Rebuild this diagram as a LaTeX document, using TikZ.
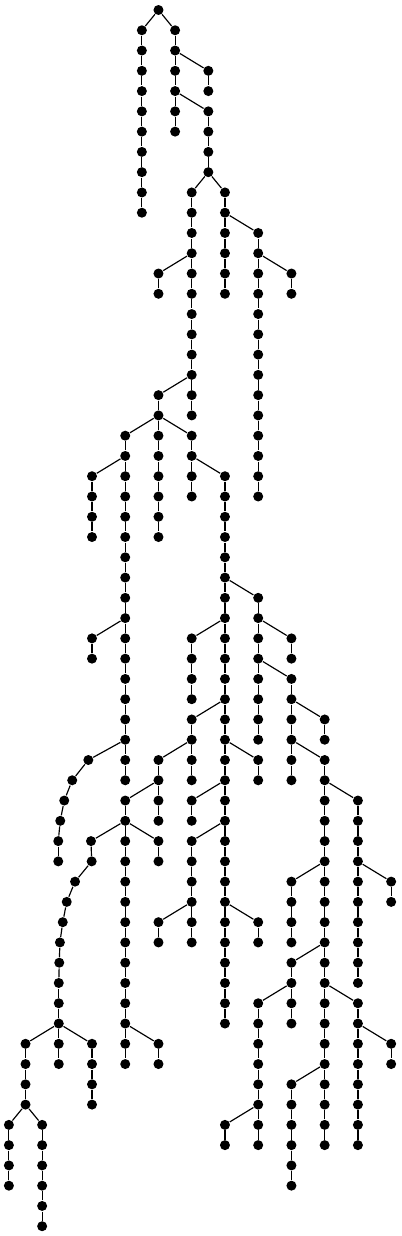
\documentclass[tikz,border=0pt]{standalone}
\usepackage{tikz}
\tikzset{
  dot/.style={circle, fill=black, inner sep=0pt, minimum size=3mm}
}
% vertical run of dots: name, column, first row, last row
\newcommand{\twig}[4]{%
  \foreach \r in {#3,...,#4}{
    \node[dot] (#1-\r) at (#2,-\r) {};
    \ifnum\r>#3 \pgfmathtruncatemacro{\p}{\r-1}\draw (#1-\p) -- (#1-\r);\fi
  }}

\begin{document}
\begin{tikzpicture}[x=0.4986cm, y=0.6081cm, line width=1pt]
    \useasboundingbox (-0.5355,0.4933) rectangle (23.652,-60.483);

    \node[dot] (root) at (9,0) {};

    \twig{A}{8}{1}{10}
    \twig{B}{10}{1}{6}
    \twig{C}{12}{3}{4}
    \twig{D}{12}{5}{8}
    \twig{E}{11}{9}{20}
    \twig{F}{13}{9}{14}
    \twig{Ea}{9}{13}{14}
    \twig{G}{9}{19}{26}
    \twig{H}{15}{11}{24}
    \twig{Ha}{17}{13}{14}
    \twig{I}{7}{21}{38}
    \twig{K}{11}{21}{24}
    \twig{J}{5}{23}{26}
    \twig{Ia}{5}{31}{32}
    \twig{L}{13}{23}{50}
    \twig{M}{15}{29}{36}
    \twig{N}{11}{31}{34}
    \twig{Ma}{17}{31}{32}
    \twig{S}{17}{33}{38}
    \twig{Sa}{19}{35}{36}
    \twig{T}{19}{37}{56}
    \twig{U}{21}{39}{48}
    \twig{Ua}{23}{43}{44}
    \twig{Ta}{17}{43}{46}
    \twig{V}{17}{47}{50}
    \twig{W}{15}{49}{56}
    \twig{Wa}{13}{55}{56}
    \twig{X}{21}{49}{56}
    \twig{Xa}{23}{51}{52}
    \twig{Tb}{17}{53}{58}
    \twig{P}{11}{35}{38}
    \twig{Q}{9}{37}{40}
    \twig{R}{7}{39}{52}
    \twig{Ra}{9}{41}{42}
    \twig{Rb}{9}{51}{52}
    \twig{La}{15}{37}{38}
    \twig{Lb}{11}{39}{40}
    \twig{Lc}{11}{41}{46}
    \twig{Ld}{9}{45}{46}
    \twig{Le}{15}{45}{46}
    \twig{Ya}{3}{51}{52}
    \twig{Yb}{5}{51}{54}
    \twig{Z}{1}{51}{54}
    \twig{Za}{0}{55}{58}
    \twig{Zb}{2}{55}{60}

    % the two bent runs on the left
    \foreach \x/\r in {4.78/37, 3.81/38, 3.33/39, 3.09/40, 2.97/41, 2.97/42}
      \node[dot] (O-\r) at (\x,-\r) {};
    \foreach \x/\r in {4.94/41, 4.98/42, 3.98/43, 3.48/44, 3.24/45, 3.07/46, 3.03/47, 3/48, 3/49, 3/50}
      \node[dot] (Y-\r) at (\x,-\r) {};
    \foreach \r in {38,...,42}{\pgfmathtruncatemacro{\p}{\r-1}\draw (O-\p) -- (O-\r);}
    \foreach \r in {42,...,50}{\pgfmathtruncatemacro{\p}{\r-1}\draw (Y-\p) -- (Y-\r);}

    \foreach \a/\b in {root/A-1, root/B-1, B-2/C-3, B-4/D-5, D-8/E-9, D-8/F-9,
        E-12/Ea-13, E-18/G-19, F-10/H-11, H-12/Ha-13, G-20/I-21, G-20/K-21,
        I-22/J-23, I-30/Ia-31, K-22/L-23, L-28/M-29, L-30/N-31, M-30/Ma-31,
        M-32/S-33, S-34/Sa-35, S-36/T-37, T-38/U-39, U-42/Ua-43, T-42/Ta-43,
        T-46/V-47, V-48/W-49, W-54/Wa-55, T-48/X-49, X-50/Xa-51, T-52/Tb-53,
        L-34/P-35, P-36/Q-37, Q-38/R-39, R-40/Ra-41, R-50/Rb-51, L-36/La-37,
        L-38/Lb-39, L-40/Lc-41, Lc-44/Ld-45, L-44/Le-45, I-36/O-37, R-40/Y-41,
        Y-50/Ya-51, Y-50/Yb-51, Y-50/Z-51, Z-54/Za-55, Z-54/Zb-55}
      \draw (\a) -- (\b);
\end{tikzpicture}
\end{document}
